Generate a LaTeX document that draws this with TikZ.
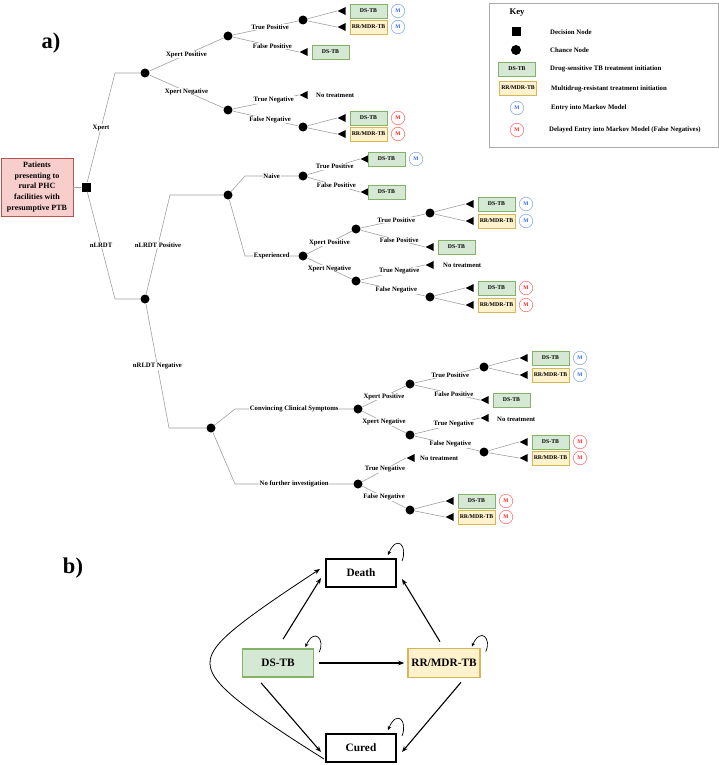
\documentclass[tikz,border=0pt]{standalone}
\usepackage{fontspec}
\setmainfont{Liberation Serif}
\usetikzlibrary{shapes.geometric,arrows.meta,calc}
\definecolor{treegray}{HTML}{A0A0A0}
\definecolor{dsfill}{HTML}{D5E8D4}
\definecolor{dsline}{HTML}{82B366}
\definecolor{rrfill}{HTML}{FFF2CC}
\definecolor{rrline}{HTML}{D6B656}
\definecolor{rootfill}{HTML}{F8CECC}
\definecolor{rootline}{HTML}{B85450}
\definecolor{mbline}{HTML}{7EA6E0}
\definecolor{mbtext}{HTML}{3366FF}
\definecolor{mrline}{HTML}{FF6666}
\definecolor{mrtext}{HTML}{FF2222}
\definecolor{keyline}{HTML}{AAAAAA}
\newcommand\lblfont{\fontsize{6.7}{8}\selectfont\bfseries}
\newcommand\boxfont{\fontsize{5.8}{7}\selectfont\bfseries}
\newcommand\mfont{\fontsize{5.5}{6}\selectfont\bfseries}
\newcommand\keyfont{\fontsize{6.8}{8}\selectfont\bfseries}
\newcommand\rootfont{\fontsize{8}{10.8}\selectfont\bfseries}
\newcommand\statefont{\fontsize{11.3}{13}\selectfont\bfseries}
\newcommand\panelfont{\fontsize{22.5}{26}\selectfont\bfseries}
\newcommand\leafpair[6]{%
  \node[term] (#1-t1) at (#3,#4) {};
  \node[term] (#1-t2) at (#3,#5) {};
  \node[dsbox] (#1-b1) at ($(#1-t1.apex)+(31.5,0)$) {DS-TB};
  \node[rrbox] (#1-b2) at ($(#1-t2.apex)+(31.5,0)$) {RR/MDR-TB};
  \node[#6] (#1-m1) at ($(#1-t1.apex)+(61,0)$) {M};
  \node[#6] (#1-m2) at ($(#1-t2.apex)+(61,0)$) {M};
  \draw[br] (#2) -- (#1-t1.apex);
  \draw[br] (#2) -- (#1-t2.apex);
}
\begin{document}
\begin{tikzpicture}[x=1pt,y=-1pt,
  br/.style={draw=treegray, line width=0.6pt},
  lbl/.style={fill=white, inner sep=0.8pt, font=\lblfont},
  chance/.style={circle, fill=black, minimum size=9pt, inner sep=0pt},
  decision/.style={rectangle, fill=black, minimum size=9pt, inner sep=0pt},
  term/.style={isosceles triangle, isosceles triangle stretches, shape border rotate=180, fill=black, minimum width=8pt, minimum height=8pt, inner sep=0pt, anchor=apex},
  dsbox/.style={rectangle, fill=dsfill, draw=dsline, line width=0.9pt, minimum width=37pt, minimum height=14pt, inner sep=0pt, font=\boxfont},
  rrbox/.style={dsbox, fill=rrfill, draw=rrline},
  mblue/.style={circle, draw=mbline, line width=0.5pt, minimum size=13.5pt, inner sep=0pt, text=mbtext, font=\mfont},
  mred/.style={mblue, draw=mrline, text=mrtext},
  notx/.style={font=\lblfont, anchor=west, inner sep=0pt},
  keytext/.style={font=\keyfont, anchor=west, inner sep=0pt},
  stateb/.style={rectangle, draw=black, line width=2pt, minimum width=70pt, minimum height=28pt, inner sep=0pt, font=\statefont},
  dsb/.style={stateb, fill=dsfill, draw=dsline, line width=1.6pt, minimum width=71pt},
  rrb/.style={stateb, fill=rrfill, draw=rrline, line width=1.6pt, minimum width=72pt, minimum height=29pt},
  arr/.style={-{Stealth[length=6pt,width=4.6pt]}, line width=1.1pt, draw=black},
  selfloop/.style={-{Stealth[length=4pt,width=3.6pt]}, line width=0.7pt, draw=black}
]
\useasboundingbox (0,0) rectangle (719,765);

% ---------- panel a ----------
\node[font=\panelfont] (pa) at (51,43) {a)};

\node[rectangle, fill=rootfill, draw=rootline, line width=0.8pt, minimum width=72pt, minimum height=58pt, inner sep=0pt, align=center, font=\rootfont] (root) at (37,187) {Patients\\presenting to\\rural PHC\\facilities with\\presumptive PTB};
\node[decision] (dec) at (86,187) {};
\draw[br] (root) -- (dec);

% Xpert arm
\node[chance] (x0) at (145,73) {};
\coordinate (cx0) at (115,73);
\draw[br] (dec) -- node[lbl]{Xpert} (cx0) -- (x0);
\node[chance] (xp) at (228,36) {};
\node[chance] (xn) at (228,110) {};
\draw[br] (x0) -- node[lbl]{Xpert Positive} (xp);
\draw[br] (x0) -- node[lbl]{Xpert Negative} (xn);

\node[chance] (xptp) at (303,20) {};
\node[term] (xpfp) at (299,52) {};
\node[dsbox] (xpfpb) at ($(xpfp.apex)+(31.5,0)$) {DS-TB};
\draw[br] (xp) -- node[lbl, pos=0.57]{True Positive} (xptp);
\draw[br] (xp) -- node[lbl, pos=0.6]{False Positive} (xpfp.apex);
\leafpair{La}{xptp}{337}{11}{27}{mblue}

\node[term] (xntn) at (299,95) {};
\node[notx] (xntnt) at (316,95) {No treatment};
\node[chance] (xnfn) at (303,127) {};
\draw[br] (xn) -- node[lbl, pos=0.62]{True Negative} (xntn.apex);
\draw[br] (xn) -- node[lbl, pos=0.57]{False Negative} (xnfn);
\leafpair{Lb}{xnfn}{337}{118}{134}{mred}

% nLRDT arm
\node[chance] (n0) at (145,299) {};
\coordinate (cn0) at (115,299);
\draw[br] (dec) -- node[lbl]{nLRDT} (cn0) -- (n0);

\node[chance] (np) at (228,195) {};
\coordinate (cnp) at (170,195);
\draw[br] (n0) -- node[lbl]{nLRDT Positive} (cnp) -- (np);

\node[chance] (nv) at (303,176) {};
\coordinate (cnv) at (245,176);
\draw[br] (np) -- (cnv) -- node[lbl]{Naive} (nv);
\node[chance] (ex) at (303,256) {};
\coordinate (cex) at (245,256);
\draw[br] (np) -- (cex) -- node[lbl]{Experienced} (ex);

\node[term] (nvtp) at (360,159) {};
\node[dsbox] (nvtpb) at ($(nvtp.apex)+(26.5,0)$) {DS-TB};
\node[mblue] (nvtpm) at ($(nvtp.apex)+(56,0)$) {M};
\node[term] (nvfp) at (360,192) {};
\node[dsbox] (nvfpb) at ($(nvfp.apex)+(26.5,0)$) {DS-TB};
\draw[br] (nv) -- node[lbl, pos=0.52]{True Positive} (nvtp.apex);
\draw[br] (nv) -- node[lbl, pos=0.55]{False Positive} (nvfp.apex);

\node[chance] (exp) at (356,229) {};
\node[chance] (exn) at (356,281) {};
\draw[br] (ex) -- node[lbl]{Xpert Positive} (exp);
\draw[br] (ex) -- node[lbl]{Xpert Negative} (exn);

\node[chance] (exptp) at (430,213) {};
\node[term] (expfp) at (425,247) {};
\node[dsbox] (expfpb) at ($(expfp.apex)+(31.5,0)$) {DS-TB};
\draw[br] (exp) -- node[lbl, pos=0.55]{True Positive} (exptp);
\draw[br] (exp) -- node[lbl, pos=0.6]{False Positive} (expfp.apex);
\leafpair{Lc}{exptp}{465}{204}{221}{mblue}

\node[term] (exntn) at (425,265) {};
\node[notx] (exntnt) at (443,265) {No treatment};
\node[chance] (exnfn) at (430,297) {};
\draw[br] (exn) -- node[lbl, pos=0.6]{True Negative} (exntn.apex);
\draw[br] (exn) -- node[lbl, pos=0.55]{False Negative} (exnfn);
\leafpair{Ld}{exnfn}{465}{288}{305}{mred}

% nLRDT negative
\node[chance] (nn) at (211,428) {};
\coordinate (cnn) at (169,428);
\draw[br] (n0) -- node[lbl]{nRLDT Negative} (cnn) -- (nn);

\node[chance] (cc) at (358,409) {};
\coordinate (ccc) at (235,409);
\draw[br] (nn) -- (ccc) -- node[lbl]{Convincing Clinical Symptoms} (cc);
\node[chance] (nf) at (358,484) {};
\coordinate (cnf) at (235,484);
\draw[br] (nn) -- (cnf) -- node[lbl]{No further investigation} (nf);

\node[chance] (cxp) at (410,384) {};
\node[chance] (cxn) at (410,435) {};
\draw[br] (cc) -- node[lbl]{Xpert Positive} (cxp);
\draw[br] (cc) -- node[lbl]{Xpert Negative} (cxn);

\node[chance] (cxptp) at (484,367) {};
\node[term] (cxpfp) at (480,400) {};
\node[dsbox] (cxpfpb) at ($(cxpfp.apex)+(31.5,0)$) {DS-TB};
\draw[br] (cxp) -- node[lbl, pos=0.55]{True Positive} (cxptp);
\draw[br] (cxp) -- node[lbl, pos=0.6]{False Positive} (cxpfp.apex);
\leafpair{Le}{cxptp}{519}{358}{375}{mblue}

\node[term] (cxntn) at (480,418) {};
\node[notx] (cxntnt) at (497,419) {No treatment};
\node[chance] (cxnfn) at (484,452) {};
\draw[br] (cxn) -- node[lbl, pos=0.6]{True Negative} (cxntn.apex);
\draw[br] (cxn) -- node[lbl, pos=0.55]{False Negative} (cxnfn);
\leafpair{Lf}{cxnfn}{519}{442}{458}{mred}

\node[term] (nftn) at (406,458) {};
\node[notx] (nftnt) at (420,458) {No treatment};
\node[chance] (nffn) at (410,510) {};
\draw[br] (nf) -- node[lbl, pos=0.52]{True Negative} (nftn.apex);
\draw[br] (nf) -- node[lbl]{False Negative} (nffn);
\leafpair{Lg}{nffn}{445}{501}{517}{mred}

% key
\node[rectangle, draw=keyline, line width=0.8pt, minimum width=229pt, minimum height=144pt, inner sep=0pt, anchor=north west] (key) at (489,3) {};
\node[font=\fontsize{8.7}{10}\selectfont\bfseries, inner sep=0pt] (keyt) at (517,13) {Key};
\node[decision] (kdec) at (516,32) {};
\node[keytext] (kdect) at (550,32) {Decision Node};
\node[chance, minimum size=10pt] (kch) at (516,50) {};
\node[keytext] (kcht) at (550,50) {Chance Node};
\node[dsbox] (kds) at (517,69) {DS-TB};
\node[keytext] (kdst) at (550,69) {Drug-sensitive TB treatment initiation};
\node[rrbox] (krr) at (518,88) {RR/MDR-TB};
\node[keytext] (krrt) at (551,89) {Multidrug-resistant treatment initiation};
\node[mblue] (kmb) at (517,108) {M};
\node[keytext] (kmbt) at (551,108) {Entry into Markov Model};
\node[mred] (kmr) at (517,130) {M};
\node[keytext] (kmrt) at (549,130) {Delayed Entry into Markov Model (False Negatives)};

% ---------- panel b ----------
\node[font=\panelfont] (pb) at (73,568) {b)};
\node[stateb] (death) at (361,573) {Death};
\node[stateb] (cured) at (361,748) {Cured};
\node[dsb] (dsb) at (278,663) {DS-TB};
\node[rrb] (rrb) at (444,663) {RR/MDR-TB};

\draw[arr] ($(dsb.north)+(5,-9)$) -- ($(death.west)+(-4,5)$);
\draw[arr] ($(dsb.south)+(-17,5)$) -- ($(cured.west)+(-4,4)$);
\draw[arr] ($(dsb.east)+(5,0)$) -- ($(rrb.west)+(-3,0)$);
\draw[arr] ($(rrb.north)+(-4,-6)$) -- ($(death.east)+(5,6)$);
\draw[arr] ($(rrb.south)+(17,4)$) -- ($(cured.east)+(5,4)$);
\coordinate (bend) at (210,663);
\draw[arr, line width=0.8pt] ($(cured.south west)+(-1,-4)$) .. controls (230,700) and (210,680) .. (bend) .. controls (210,646) and (230,628) .. ($(death.west)+(-5,-4)$);

\draw[selfloop] ($(death.north east)+(5,3)$) .. controls ($(death.north east)+(11,-12)$) and ($(death.north east)+(0,-24)$) .. ($(death.north east)+(-9,-3)$);
\draw[selfloop] ($(cured.north east)+(5,3)$) .. controls ($(cured.north east)+(11,-12)$) and ($(cured.north east)+(0,-24)$) .. ($(cured.north east)+(-9,-3)$);
\draw[selfloop] ($(dsb.north east)+(5,4)$) .. controls ($(dsb.north east)+(11,-9)$) and ($(dsb.north east)+(0,-21)$) .. ($(dsb.north east)+(-9,-1)$);
\draw[selfloop] ($(rrb.north east)+(5,4)$) .. controls ($(rrb.north east)+(11,-9)$) and ($(rrb.north east)+(0,-21)$) .. ($(rrb.north east)+(-9,-1)$);
\end{tikzpicture}
\end{document}
